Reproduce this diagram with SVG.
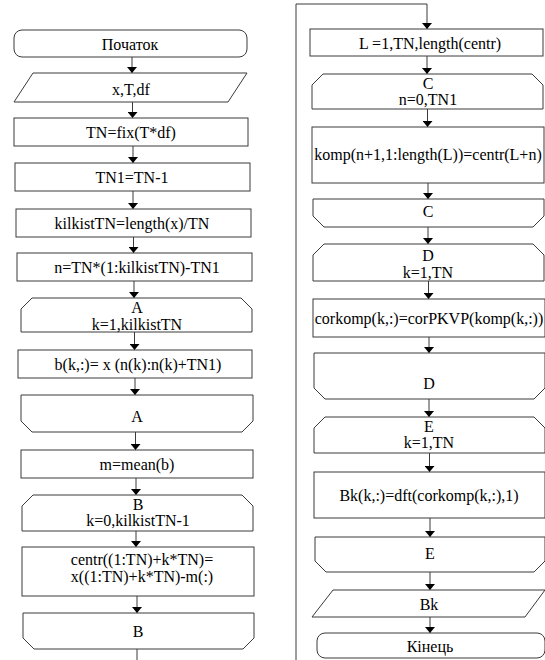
<svg xmlns="http://www.w3.org/2000/svg" width="545" height="660" viewBox="0 0 545 660">
<style>
.s{fill:#fff;stroke:#3a3a3a;stroke-width:1}
.t{font-family:'Liberation Serif','Times New Roman',serif;font-size:16px;fill:#000;text-anchor:middle}
.c{fill:none;stroke:#3a3a3a;stroke-width:1}
</style>
<defs>
<marker id="ah" markerUnits="userSpaceOnUse" viewBox="0 0 6 10" markerWidth="6" markerHeight="10" refX="6" refY="5" orient="auto">
<path d="M0,0 L6,5 L0,10 Z" fill="#000"/>
</marker>
</defs>
<rect width="545" height="660" fill="#fff"/>
<g id="connectors" class="c">
<path d="M132,57 V73" marker-end="url(#ah)"/>
<path d="M132.5,102 V118" marker-end="url(#ah)"/>
<path d="M133,146 V163" marker-end="url(#ah)"/>
<path d="M133,191 V209" marker-end="url(#ah)"/>
<path d="M133.5,237 V253" marker-end="url(#ah)"/>
<path d="M134,281 V298" marker-end="url(#ah)"/>
<path d="M134.5,332 V350" marker-end="url(#ah)"/>
<path d="M135,378 V395" marker-end="url(#ah)"/>
<path d="M135.5,432 V450" marker-end="url(#ah)"/>
<path d="M136,478 V495" marker-end="url(#ah)"/>
<path d="M136,531 V547" marker-end="url(#ah)"/>
<path d="M137,596 V613" marker-end="url(#ah)"/>
<path d="M137,649 V660"/>
<path d="M296,660 V4 H427 V29" marker-end="url(#ah)"/>
<path d="M427,56 V74" marker-end="url(#ah)"/>
<path d="M427.5,109 V127" marker-end="url(#ah)"/>
<path d="M428,183 V199" marker-end="url(#ah)"/>
<path d="M428,227 V244" marker-end="url(#ah)"/>
<path d="M428.5,281 V299" marker-end="url(#ah)"/>
<path d="M429,337 V353" marker-end="url(#ah)"/>
<path d="M429,399 V417" marker-end="url(#ah)"/>
<path d="M429.5,453 V472" marker-end="url(#ah)"/>
<path d="M430,518 V537" marker-end="url(#ah)"/>
<path d="M430,572 V590" marker-end="url(#ah)"/>
<path d="M430,617 V633" marker-end="url(#ah)"/>
</g>
<g id="start"><rect class="s" x="14" y="30" width="233" height="27" rx="8"/><text class="t" x="130" y="49.5">Початок</text></g>
<g id="input"><path class="s" d="M33,73 H247 L228,102 H14 Z"/><text class="t" x="131" y="94.5">x,T,df</text></g>
<g id="tn"><rect class="s" x="14" y="118" width="234" height="28"/><text class="t" x="131" y="137.5">TN=fix(T*df)</text></g>
<g id="tn1"><rect class="s" x="15" y="163" width="235" height="28"/><text class="t" x="132" y="182.5">TN1=TN-1</text></g>
<g id="kilkist"><rect class="s" x="16" y="209" width="235" height="28"/><text class="t" x="132" y="228.5">kilkistTN=length(x)/TN</text></g>
<g id="n"><rect class="s" x="17" y="253" width="235" height="28"/><text class="t" x="137" y="272.5">n=TN*(1:kilkistTN)-TN1</text></g>
<g id="loopA"><path class="s" d="M21,309 L32,298 H241 L252,309 V332 H21 Z"/><text class="t" x="137" y="312.5">A</text><text class="t" x="137" y="329.5">k=1,kilkistTN</text></g>
<g id="b"><rect class="s" x="18" y="350" width="234" height="28"/><text class="t" x="138" y="369.5">b(k,:)= x (n(k):n(k)+TN1)</text></g>
<g id="endA"><path class="s" d="M21,395 H253 V421 L242,432 H32 L21,421 Z"/><text class="t" x="137" y="421.5">A</text></g>
<g id="m"><rect class="s" x="21" y="450" width="232" height="28"/><text class="t" x="137" y="469.5">m=mean(b)</text></g>
<g id="loopB"><path class="s" d="M22,506 L33,495 H242 L253,506 V531 H22 Z"/><text class="t" x="138" y="509.5">B</text><text class="t" x="138" y="525.5">k=0,kilkistTN-1</text></g>
<g id="centr"><rect class="s" x="22" y="547" width="232" height="49"/><text class="t" x="142" y="564.5">centr((1:TN)+k*TN)=</text><text class="t" x="142" y="581.5">x((1:TN)+k*TN)-m(:)</text></g>
<g id="endB"><path class="s" d="M23,613 H254 V638 L243,649 H34 L23,638 Z"/><text class="t" x="138" y="636.5">B</text></g>
<g id="L"><rect class="s" x="310" y="29" width="233" height="27"/><text class="t" x="430" y="48.5">L =1,TN,length(centr)</text></g>
<g id="loopC"><path class="s" d="M312,85 L323,74 H532 L543,85 V109 H312 Z"/><text class="t" x="428" y="88.5">C</text><text class="t" x="428" y="104.5">n=0,TN1</text></g>
<g id="komp"><rect class="s" x="312" y="127" width="232" height="56"/><text class="t" x="428" y="159.5">komp(n+1,1:length(L))=centr(L+n)</text></g>
<g id="endC"><path class="s" d="M313,199 H544 V216 L533,227 H324 L313,216 Z"/><text class="t" x="428" y="216.5">C</text></g>
<g id="loopD"><path class="s" d="M313,255 L324,244 H533 L544,255 V281 H313 Z"/><text class="t" x="428" y="260.5">D</text><text class="t" x="428" y="277.5">k=1,TN</text></g>
<g id="corkomp"><rect class="s" x="313" y="299" width="232" height="38"/><text class="t" x="429" y="323.5">corkomp(k,:)=corPKVP(komp(k,:))</text></g>
<g id="endD"><path class="s" d="M314,353 H545 V388 L534,399 H325 L314,388 Z"/><text class="t" x="429" y="388.5">D</text></g>
<g id="loopE"><path class="s" d="M314,428 L325,417 H534 L545,428 V453 H314 Z"/><text class="t" x="429" y="431.5">E</text><text class="t" x="429" y="447.5">k=1,TN</text></g>
<g id="Bk"><rect class="s" x="314" y="472" width="231" height="46"/><text class="t" x="429" y="500.5">Bk(k,:)=dft(corkomp(k,:),1)</text></g>
<g id="endE"><path class="s" d="M315,537 H545 V561 L534,572 H326 L315,561 Z"/><text class="t" x="430" y="558.5">E</text></g>
<g id="output"><path class="s" d="M333,590 H545 L525,617 H312 Z"/><text class="t" x="429" y="609.5">Bk</text></g>
<g id="end"><rect class="s" x="317" y="633" width="228" height="25" rx="8"/><text class="t" x="430" y="651.5">Кінець</text></g>
</svg>
